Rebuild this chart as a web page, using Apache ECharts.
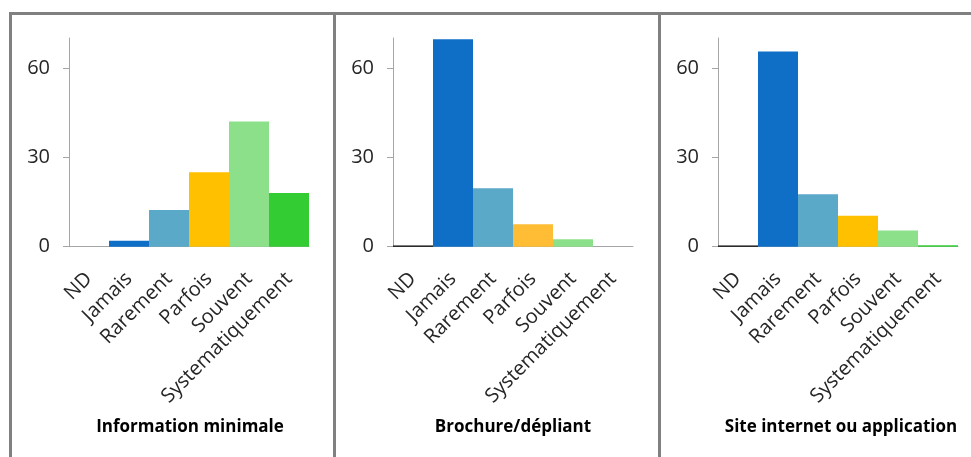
<!DOCTYPE html>
<html>
<head>
<meta charset="utf-8">
<script src="https://cdn.jsdelivr.net/npm/echarts@6/dist/echarts.min.js"></script>
<style>
html,body{margin:0;padding:0;background:#fff;}
#chart{width:971px;height:457px;}
</style>
</head>
<body>
<div id="chart"></div>
<script>
// ---- data ----
const categories = ['ND', 'Jamais', 'Rarement', 'Parfois', 'Souvent', 'Systematiquement'];
const panelTitles = ['Information minimale', 'Brochure/dépliant', 'Site internet ou application'];
const infoMinimale = [0, 2, 12.3, 25, 42, 18];
const brochure = [0.4, 69.6, 19.6, 7.5, 2.5, 0];
const siteInternet = [0.4, 65.5, 17.6, 10.4, 5.4, 0.5];
const yTicks = [0, 30, 60];
const yMax = 70;

// ---- styling ----
const colors1 = ['#000000', '#0F6FC6', '#5AA9C8', '#FFC000', '#8CE08A', '#33CC33'];
const colors2 = ['#000000', '#0F6FC6', '#5AA9C8', '#FFBD35', '#8CE08A', '#33CC33'];
const colors3 = ['#000000', '#0F6FC6', '#5AA9C8', '#FFC000', '#8CE08A', '#33CC33'];
const panelData = [infoMinimale, brochure, siteInternet];
const panelColors = [colors1, colors2, colors3];
const gridLefts = [69, 393, 718];
const titleCenters = [185, 508, 836];
const gridWidth = 240;
const FONT = 'Open Sans';

const chart = echarts.init(document.getElementById('chart'), null, {renderer: 'canvas'});

const grids = [], xAxes = [], yAxes = [], series = [], titles = [];
for (let i = 0; i < 3; i++) {
  grids.push({left: gridLefts[i], width: gridWidth, top: 38, height: 208.7, containLabel: false});
  xAxes.push({
    type: 'category', gridIndex: i, data: categories,
    boundaryGap: true,
    axisLine: {show: true, lineStyle: {color: '#A6A6A6', width: 1}},
    axisTick: {show: false},
    axisLabel: {rotate: 45, interval: 0, margin: 29, fontSize: 20, color: '#262626', fontFamily: FONT}
  });
  yAxes.push({
    type: 'value', gridIndex: i, min: 0, max: yMax,
    splitLine: {show: false},
    axisLine: {show: true, lineStyle: {color: '#A6A6A6', width: 1}},
    axisTick: {show: true, length: 6, inside: false, customValues: yTicks, lineStyle: {color: '#A6A6A6'}},
    axisLabel: {customValues: yTicks, margin: 19, fontSize: 20, color: '#262626', fontFamily: FONT}
  });
  const cols = panelColors[i];
  series.push({
    type: 'bar', xAxisIndex: i, yAxisIndex: i,
    data: panelData[i].map((v, k) => ({value: v, itemStyle: {color: cols[k]}})),
    barCategoryGap: '0%', barGap: '0%',
    silent: true, animation: false
  });
  titles.push({
    text: panelTitles[i],
    left: titleCenters[i], top: 414, textAlign: 'center',
    textStyle: {fontSize: 17, fontWeight: 'bold', color: '#000', fontFamily: FONT}
  });
}

const borderStyle = {stroke: '#808080', lineWidth: 3};
const option = {
  backgroundColor: '#fff',
  animation: false,
  title: titles,
  grid: grids,
  xAxis: xAxes,
  yAxis: yAxes,
  series: series,
  graphic: [
    {type: 'line', shape: {x1: 9, y1: 13.5, x2: 971, y2: 13.5}, style: borderStyle, silent: true},
    {type: 'line', shape: {x1: 10.5, y1: 12, x2: 10.5, y2: 457}, style: borderStyle, silent: true},
    {type: 'line', shape: {x1: 334.5, y1: 12, x2: 334.5, y2: 457}, style: borderStyle, silent: true},
    {type: 'line', shape: {x1: 659.5, y1: 12, x2: 659.5, y2: 457}, style: borderStyle, silent: true}
  ]
};
chart.setOption(option);
</script>
</body>
</html>
